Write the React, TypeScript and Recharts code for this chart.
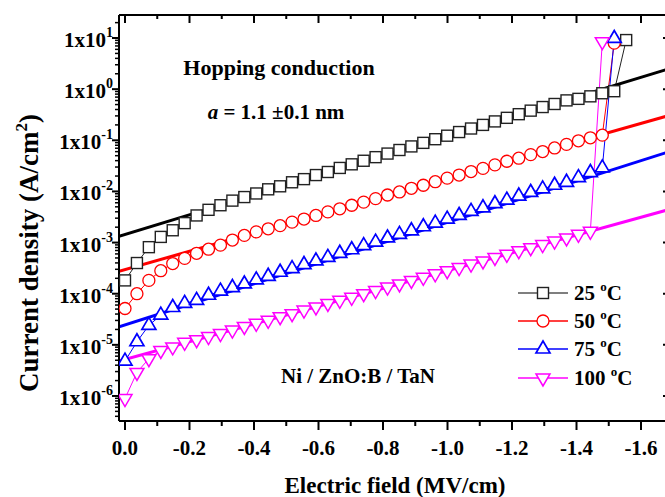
import React from "react";
import { ComposedChart, Line, XAxis, YAxis } from "recharts";

const FONT = "'Liberation Serif', 'Times New Roman', Times, serif";

// Electric field (MV/cm) of each measured point
const fields = [
  0, -0.037, -0.074, -0.111, -0.148, -0.185, -0.222, -0.259, -0.296, -0.333,
  -0.37, -0.407, -0.444, -0.481, -0.518, -0.555, -0.592, -0.629, -0.666, -0.703,
  -0.74, -0.777, -0.814, -0.851, -0.888, -0.925, -0.962, -0.999, -1.036, -1.073,
  -1.11, -1.147, -1.184, -1.221, -1.258, -1.295, -1.332, -1.369, -1.406, -1.443,
  -1.48, -1.517, -1.554,
];

// Current density (A/cm^2)
const j25 = [
  1.82e-4, 3.98e-4, 8.13e-4, 1.29e-3, 1.74e-3, 2.4e-3, 3.39e-3, 4.37e-3, 5.37e-3, 6.61e-3,
  7.76e-3, 9.12e-3, 1.1e-2, 1.26e-2, 1.51e-2, 1.74e-2, 2.09e-2, 2.4e-2, 2.88e-2, 3.39e-2,
  3.98e-2, 4.68e-2, 5.5e-2, 6.46e-2, 7.59e-2, 8.91e-2, 0.105, 0.123, 0.145, 0.17,
  0.2, 0.234, 0.275, 0.324, 0.38, 0.447, 0.513, 0.603, 0.646, 0.724,
  0.832, 0.912, 9.12,
];
const j50 = [
  5.13e-5, 1.0e-4, 1.82e-4, 2.82e-4, 3.89e-4, 4.9e-4, 6.17e-4, 7.41e-4, 8.91e-4, 1.12e-3,
  1.38e-3, 1.62e-3, 1.86e-3, 2.14e-3, 2.51e-3, 2.88e-3, 3.39e-3, 3.98e-3, 4.57e-3, 5.37e-3,
  6.17e-3, 7.24e-3, 8.51e-3, 9.77e-3, 1.15e-2, 1.32e-2, 1.55e-2, 1.82e-2, 2.09e-2, 2.45e-2,
  2.82e-2, 3.31e-2, 3.89e-2, 4.47e-2, 5.25e-2, 6.03e-2, 7.08e-2, 8.32e-2, 9.77e-2, 0.112,
  0.126, 7.94,
];
const j75 = [
  4.79e-6, 1.15e-5, 2.4e-5, 3.8e-5, 5.37e-5, 6.46e-5, 7.41e-5, 9.33e-5, 1.12e-4, 1.32e-4,
  1.55e-4, 1.86e-4, 2.19e-4, 2.63e-4, 3.09e-4, 3.72e-4, 4.37e-4, 5.13e-4, 6.17e-4, 7.24e-4,
  8.71e-4, 1.02e-3, 1.23e-3, 1.45e-3, 1.7e-3, 2.04e-3, 2.4e-3, 2.88e-3, 3.39e-3, 4.07e-3,
  4.79e-3, 5.75e-3, 6.76e-3, 8.13e-3, 9.55e-3, 1.12e-2, 1.32e-2, 1.51e-2, 1.86e-2, 2.34e-2,
  2.88e-2, 9.8,
];
const j100 = [
  8.9e-7, 2.88e-6, 5.37e-6, 7.76e-6, 9.12e-6, 1.12e-5, 1.26e-5, 1.45e-5, 1.66e-5, 1.95e-5,
  2.29e-5, 2.63e-5, 3.02e-5, 3.55e-5, 4.07e-5, 4.79e-5, 5.5e-5, 6.46e-5, 7.41e-5, 8.51e-5,
  1.0e-4, 1.15e-4, 1.35e-4, 1.55e-4, 1.82e-4, 2.09e-4, 2.45e-4, 2.82e-4, 3.24e-4, 3.8e-4,
  4.37e-4, 5.13e-4, 5.89e-4, 6.92e-4, 7.94e-4, 9.12e-4, 1.07e-3, 1.23e-3, 1.45e-3, 1.66e-3,
  8.5,
];

// Hopping-conduction fit lines (end points)
const fitFields = [0.0186, -1.693];
const fit25 = [1.33e-3, 2.57];
const fit50 = [2.75e-4, 0.314];
const fit75 = [2.26e-5, 0.0615];
const fit100 = [4.8e-6, 4.53e-3];

// Axes
const xDomain = [-1.693, 0.0186];
const yDomain = [3.24e-7, 28.2];
const xMajorTicks = [0, -0.2, -0.4, -0.6, -0.8, -1.0, -1.2, -1.4, -1.6];
const xTickLabels = ["0.0", "-0.2", "-0.4", "-0.6", "-0.8", "-1.0", "-1.2", "-1.4", "-1.6"];
const xMinorTicks = [-0.1, -0.3, -0.5, -0.7, -0.9, -1.1, -1.3, -1.5];
const yMajorTicks = [1e-6, 1e-5, 1e-4, 1e-3, 1e-2, 1e-1, 1e0, 1e1];
const yExpLabels = ["-6", "-5", "-4", "-3", "-2", "-1", "0", "1"];

const legendLabels = ["25", "50", "75", "100"];

const xTicks = [...xMajorTicks, ...xMinorTicks].sort((a, b) => b - a);
const yTicks: number[] = [];
for (let k = -7; k <= 1; k++) {
  for (let m = 1; m <= 9; m++) {
    const v = m * Math.pow(10, k);
    if (v >= yDomain[0] && v <= yDomain[1]) yTicks.push(v);
  }
}

const toPoints = (ys: number[]) => ys.map((y, i) => ({ x: fields[i], y }));
const toFit = (ys: number[]) => ys.map((y, i) => ({ x: fitFields[i], y }));

type Shape = "square" | "circle" | "up" | "down";

const series = [
  { label: legendLabels[0], data: toPoints(j25), fit: toFit(fit25), color: "#222222", fitColor: "#000000", legendLine: "#555555", shape: "square" as Shape },
  { label: legendLabels[1], data: toPoints(j50), fit: toFit(fit50), color: "#ff0000", fitColor: "#ff0000", legendLine: "#ff0000", shape: "circle" as Shape },
  { label: legendLabels[2], data: toPoints(j75), fit: toFit(fit75), color: "#0000ff", fitColor: "#0000ff", legendLine: "#0000ff", shape: "up" as Shape },
  { label: legendLabels[3], data: toPoints(j100), fit: toFit(fit100), color: "#ff00ff", fitColor: "#ff00ff", legendLine: "#ff00ff", shape: "down" as Shape },
];

function Marker({ shape, cx, cy, color }: { shape: Shape; cx: number; cy: number; color: string }) {
  if (shape === "square")
    return <rect x={cx - 5.5} y={cy - 5.5} width={11} height={11} fill="#fff" stroke={color} strokeWidth={1.4} />;
  if (shape === "circle")
    return <circle cx={cx} cy={cy} r={6} fill="#fff" stroke={color} strokeWidth={1.3} />;
  if (shape === "up")
    return (
      <polygon
        points={`${cx},${cy - 8} ${cx - 7},${cy + 4} ${cx + 7},${cy + 4}`}
        fill="#fff"
        stroke={color}
        strokeWidth={1.7}
        strokeLinejoin="miter"
      />
    );
  return (
    <polygon
      points={`${cx},${cy + 8} ${cx - 7},${cy - 4} ${cx + 7},${cy - 4}`}
      fill="#fff"
      stroke={color}
      strokeWidth={1.5}
      strokeLinejoin="miter"
    />
  );
}

const makeDot = (shape: Shape, color: string) => (props: any) => {
  const { cx, cy, index } = props;
  if (cx == null || cy == null) return <g key={`d${index}`} />;
  return (
    <g key={`d${index}`}>
      <Marker shape={shape} cx={cx} cy={cy} color={color} />
    </g>
  );
};

const isMajorX = (v: number) => Math.abs(v * 5 - Math.round(v * 5)) < 1e-6;
const isMajorY = (v: number) => {
  const e = Math.log10(v);
  return Math.abs(e - Math.round(e)) < 1e-6;
};

const BottomTick = (props: any) => {
  const { x, y, payload } = props;
  const v = payload.value as number;
  const major = isMajorX(v);
  const idx = xMajorTicks.findIndex((t) => Math.abs(t - v) < 1e-6);
  return (
    <g>
      <line x1={x} x2={x} y1={y} y2={y + (major ? 9 : 5)} stroke="#000" strokeWidth={2} />
      {major && idx >= 0 && (
        <text x={x} y={y + 34} textAnchor="middle" fontFamily={FONT} fontWeight="bold" fontSize={21} fill="#000">
          {xTickLabels[idx]}
        </text>
      )}
    </g>
  );
};

const TopTick = (props: any) => {
  const { x, y, payload } = props;
  const major = isMajorX(payload.value);
  return <line x1={x} x2={x} y1={y} y2={y + (major ? 8 : 4)} stroke="#000" strokeWidth={2} />;
};

const LeftTick = (props: any) => {
  const { x, y, payload } = props;
  const v = payload.value as number;
  const major = isMajorY(v);
  const idx = yMajorTicks.findIndex((t) => Math.abs(Math.log10(t) - Math.log10(v)) < 1e-6);
  return (
    <g>
      <line x1={x} x2={x - (major ? 7 : 4)} y1={y} y2={y} stroke="#000" strokeWidth={major ? 2 : 1.5} />
      {major && idx >= 0 && (
        <text x={x - 6} y={y + 9} textAnchor="end" fontFamily={FONT} fontWeight="bold" fontSize={21} fill="#000">
          1x10
          <tspan dy={-10} fontSize={14}>
            {yExpLabels[idx]}
          </tspan>
        </text>
      )}
    </g>
  );
};

const RightTick = (props: any) => {
  const { x, y, payload } = props;
  const major = isMajorY(payload.value);
  return <line x1={x} x2={x - (major ? 8 : 4)} y1={y} y2={y} stroke="#000" strokeWidth={major ? 2 : 1.5} />;
};

const legendRows = [293, 321, 349, 378];

export default function App() {
  return (
    <div style={{ position: "absolute", left: 0, top: 0, width: 665, height: 497, overflow: "hidden", background: "#fff" }}>
      <ComposedChart width={674} height={497} margin={{ top: 14, right: 0, bottom: 0, left: 0 }}>
        <XAxis
          dataKey="x"
          type="number"
          domain={xDomain}
          allowDataOverflow
          reversed
          ticks={xTicks}
          interval={0}
          tickSize={0}
          tickMargin={0}
          tickLine={false}
          tick={<BottomTick />}
          axisLine={{ stroke: "#000", strokeWidth: 2 }}
          height={76}
        />
        <XAxis
          xAxisId="top"
          orientation="top"
          dataKey="x"
          type="number"
          domain={xDomain}
          allowDataOverflow
          reversed
          ticks={xTicks}
          interval={0}
          tickSize={0}
          tickMargin={0}
          tickLine={false}
          tick={<TopTick />}
          axisLine={{ stroke: "#000", strokeWidth: 2 }}
          height={1}
        />
        <YAxis
          type="number"
          scale="log"
          domain={yDomain}
          allowDataOverflow
          ticks={yTicks}
          interval={0}
          tickSize={0}
          tickMargin={0}
          tickLine={false}
          tick={<LeftTick />}
          axisLine={{ stroke: "#000", strokeWidth: 2 }}
          width={119}
        />
        <YAxis
          yAxisId="right"
          orientation="right"
          type="number"
          scale="log"
          domain={yDomain}
          allowDataOverflow
          ticks={yTicks}
          interval={0}
          tickSize={0}
          tickMargin={0}
          tickLine={false}
          tick={<RightTick />}
          axisLine={{ stroke: "#000", strokeWidth: 2 }}
          width={3}
        />
        {series.map((s) => (
          <Line
            key={`pts${s.label}`}
            data={s.data}
            dataKey="y"
            type="linear"
            stroke={s.color}
            strokeWidth={1}
            dot={makeDot(s.shape, s.color)}
            activeDot={false}
            isAnimationActive={false}
          />
        ))}
        {series.map((s) => (
          <Line
            key={`fit${s.label}`}
            data={s.fit}
            dataKey="y"
            type="linear"
            stroke={s.fitColor}
            strokeWidth={3}
            dot={false}
            activeDot={false}
            isAnimationActive={false}
          />
        ))}
      </ComposedChart>
      <svg width={665} height={497} style={{ position: "absolute", left: 0, top: 0, pointerEvents: "none" }}>
        <g fontFamily={FONT} fontWeight="bold" fill="#000">
          <text x={279} y={75} textAnchor="middle" fontSize={22}>
            Hopping conduction
          </text>
          <text x={276} y={119} textAnchor="middle" fontSize={21}>
            <tspan fontStyle="italic">a</tspan> = 1.1 ±0.1 nm
          </text>
          <text x={358} y={383} textAnchor="middle" fontSize={21}>
            Ni / ZnO:B / TaN
          </text>
          <text x={395} y={493} textAnchor="middle" fontSize={23}>
            Electric field (MV/cm)
          </text>
          <text transform="translate(38,253) rotate(-90)" textAnchor="middle" fontSize={27}>
            Current density (A/cm
            <tspan dy={-11} fontSize={17}>
              2
            </tspan>
            <tspan dy={11}>)</tspan>
          </text>
          {series.map((s, i) => (
            <g key={`leg${s.label}`}>
              <line x1={518} x2={568} y1={legendRows[i]} y2={legendRows[i]} stroke={s.legendLine} strokeWidth={1.3} />
              <Marker shape={s.shape} cx={543} cy={legendRows[i]} color={s.color} />
              <text x={574} y={legendRows[i] + 7} fontSize={21}>
                {s.label}{" "}
                <tspan dy={-9} fontSize={13}>
                  o
                </tspan>
                <tspan dy={9}>C</tspan>
              </text>
            </g>
          ))}
        </g>
      </svg>
    </div>
  );
}
